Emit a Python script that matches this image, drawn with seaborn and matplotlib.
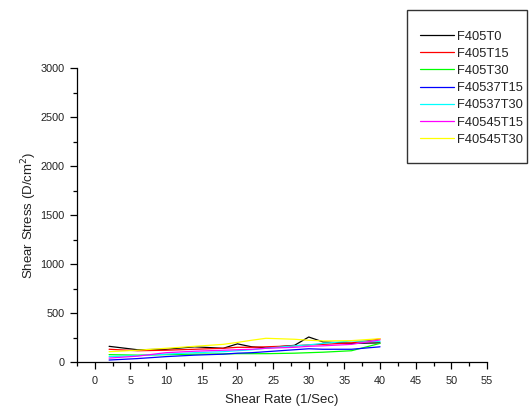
import matplotlib
matplotlib.use("Agg")
import matplotlib.pyplot as plt
from matplotlib.patches import Rectangle
from matplotlib.ticker import MultipleLocator
import seaborn as sns
import pandas as pd

shear_rate = [2, 6, 10, 14, 18, 20, 22, 24, 28, 30, 32, 36, 40]
series_names = ["F405T0", "F405T15", "F405T30", "F40537T15", "F40537T30", "F40545T15", "F40545T30"]
F405T0 = [160, 125, 130, 155, 140, 185, 155, 145, 170, 255, 205, 190, 195]
F405T15 = [130, 115, 120, 130, 140, 150, 150, 155, 165, 175, 180, 195, 235]
F405T30 = [75, 70, 75, 80, 82, 85, 85, 85, 90, 95, 100, 115, 190]
F40537T15 = [20, 35, 55, 70, 80, 90, 95, 105, 125, 135, 130, 130, 155]
F40537T30 = [55, 65, 80, 95, 105, 115, 125, 140, 165, 175, 190, 215, 210]
F40545T15 = [40, 60, 95, 110, 120, 125, 130, 140, 150, 160, 165, 180, 225]
F40545T30 = [105, 120, 140, 160, 180, 200, 222, 242, 232, 222, 215, 218, 238]
series_values = [F405T0, F405T15, F405T30, F40537T15, F40537T30, F40545T15, F40545T30]
colors = ["#000000", "#ff0000", "#00ff00", "#0000ff", "#00ffff", "#ff00ff", "#ffff00"]

rows = []
for name, vals in zip(series_names, series_values):
    for x, y in zip(shear_rate, vals):
        rows.append({"Shear Rate": x, "Shear Stress": y, "Series": name})
df = pd.DataFrame(rows)

sns.set_style("ticks")
plt.rcParams["font.family"] = ["Liberation Sans", "DejaVu Sans"]

W, H = 529, 408
fig = plt.figure(figsize=(W / 100, H / 100), dpi=100)
ax = fig.add_axes([77 / W, 1 - 362 / H, (487 - 77) / W, (362 - 68) / H])

sns.lineplot(data=df, x="Shear Rate", y="Shear Stress", hue="Series",
             hue_order=series_names, palette=colors, estimator=None,
             linewidth=0.9, ax=ax, legend=False)

ax.set_xlim(-2.5, 55)
ax.set_ylim(0, 3000)
ax.xaxis.set_major_locator(MultipleLocator(5))
ax.xaxis.set_minor_locator(MultipleLocator(2.5))
ax.yaxis.set_major_locator(MultipleLocator(500))
ax.yaxis.set_minor_locator(MultipleLocator(250))
ax.tick_params(which="major", length=5, width=0.9, labelsize=7.8, pad=4, color="black", labelcolor="#222222")
ax.tick_params(axis="x", which="major", pad=5)
ax.tick_params(which="minor", length=3, width=0.9, color="black")
for s in ["top", "right"]:
    ax.spines[s].set_visible(False)
for s in ["left", "bottom"]:
    ax.spines[s].set_linewidth(0.9)
    ax.spines[s].set_color("black")
ax.set_xlabel("Shear Rate (1/Sec)", fontsize=9.5, labelpad=6, color="#222222")
ax.set_ylabel("Shear Stress (D/cm$^2$)", fontsize=9.5, labelpad=1, color="#222222")

# legend box
fig.patches.append(Rectangle((407 / W, 1 - 163 / H), (527 - 407) / W, (163 - 10) / H,
                             transform=fig.transFigure, fill=False, edgecolor="#333333",
                             linewidth=1.0))
handles = [plt.Line2D([], [], color=c, linewidth=0.9) for c in colors]
leg = fig.legend(handles, series_names, loc="upper left",
                 bbox_to_anchor=(420 / W, 1 - 30.5 / H), frameon=False,
                 fontsize=9.3, borderpad=0, borderaxespad=0, handlelength=2.6,
                 handletextpad=0.3, labelspacing=0.4)
for t in leg.get_texts():
    t.set_color("#222222")

fig.savefig("out.png", dpi=100)
